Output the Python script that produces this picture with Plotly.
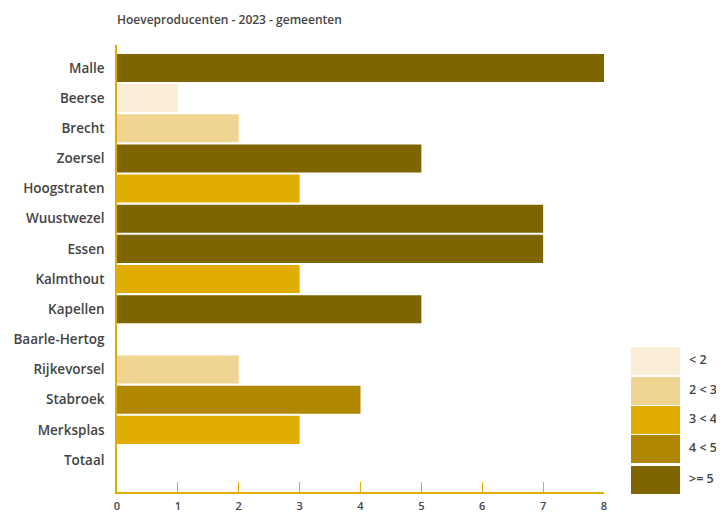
import plotly.graph_objects as go

categories = ["Malle", "Beerse", "Brecht", "Zoersel", "Hoogstraten", "Wuustwezel", "Essen",
              "Kalmthout", "Kapellen", "Baarle-Hertog", "Rijkevorsel", "Stabroek", "Merksplas", "Totaal"]
values = [8, 1, 2, 5, 3, 7, 7, 3, 5, 0, 2, 4, 3, 0]
class_labels = ["< 2", "2 < 3", "3 < 4", "4 < 5", ">= 5"]
class_bounds = [2, 3, 4, 5]
class_colors = ["#FAEED6", "#F0D492", "#E0AD00", "#B08700", "#7F6500"]
x_ticks = [0, 1, 2, 3, 4, 5, 6, 7, 8]

def cls(v):
    for i, b in enumerate(class_bounds):
        if v < b:
            return i
    return len(class_bounds)

colors = [class_colors[cls(v)] for v in values]

O = 8  # page body offset
W, H = 724 - O, 514 - O
L, R, T, B = 117 - O, 604 - O, 45 - O, 492 - O
FONT = "Open Sans"
TXT = "#444444"
AX = "#E0AD00"

fig = go.Figure(go.Bar(
    y=categories, x=values, orientation="h",
    marker=dict(color=colors, line=dict(width=0)),
    hoverinfo="x+y", showlegend=False,
))

def px_x(x):
    return (x - O - L) / (R - L)

def px_y(y):
    return (B - (y - O)) / (B - T)

shapes = []
annotations = []
box_tops = [347, 377, 406, 435, 466]
for i, lab in enumerate(class_labels):
    y0 = box_tops[i]
    y1 = y0 + 28
    shapes.append(dict(type="rect", xref="paper", yref="paper",
                       x0=px_x(631), x1=px_x(680), y0=px_y(y1), y1=px_y(y0),
                       fillcolor=class_colors[i], line=dict(width=0), layer="above"))
    annotations.append(dict(xref="paper", yref="paper", x=px_x(687), y=px_y((y0 + y1) / 2 - 2),
                            text=lab, showarrow=False, xanchor="left", yanchor="middle",
                            font=dict(family=FONT, size=12.5, color=TXT, weight=600)))

fig.update_layout(
    width=W, height=H,
    margin=dict(l=L, r=W - R, t=T, b=H - B, pad=0, autoexpand=False),
    paper_bgcolor="white", plot_bgcolor="white",
    bargap=0.07,
    font=dict(family=FONT, size=12, color=TXT),
    title=dict(text="Hoeveproducenten - 2023 - gemeenten", x=L / W, xanchor="left",
               y=1 - (20 - O) / H, yanchor="middle",
               font=dict(family=FONT, size=12, color=TXT, weight=600)),
    xaxis=dict(range=[0, 8], tickvals=x_ticks, showgrid=False, zeroline=False,
               showline=True, linecolor=AX, linewidth=1.5,
               ticks="inside", ticklen=10, tickcolor=AX, tickwidth=1,
               ticklabelstandoff=3,
               tickfont=dict(family=FONT, size=11, color=TXT, weight=600),
               automargin=False, fixedrange=True),
    yaxis=dict(type="category", categoryorder="array", categoryarray=categories,
               range=[14.06, -0.76], showgrid=False, zeroline=False,
               showline=True, linecolor=AX, linewidth=1.5, ticks="",
               ticklabelstandoff=8,
               tickfont=dict(family=FONT, size=13.5, color=TXT, weight=600),
               automargin=False, fixedrange=True),
    shapes=shapes, annotations=annotations,
)

fig.write_html("out.html")
